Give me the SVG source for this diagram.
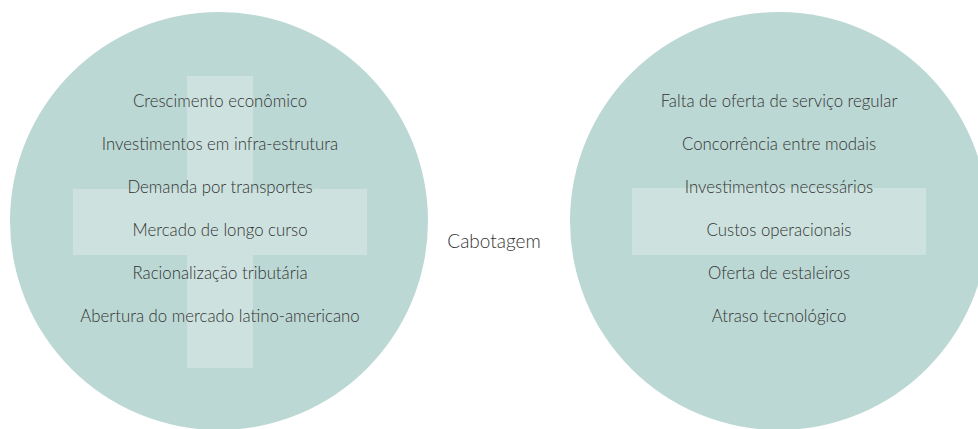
<svg xmlns="http://www.w3.org/2000/svg" width="978" height="429" viewBox="0 0 978 429">
<style>
.circ{fill:#bcd8d4}
.plus{fill:#cde2df}
text{font-family:Lato,"Open Sans","Liberation Sans",sans-serif;font-size:16.8px;font-weight:300;fill:#333333;text-anchor:middle}
.big{font-size:19px}
</style>
<rect width="978" height="429" fill="#ffffff"/>
<g id="left">
<circle class="circ" cx="219" cy="221" r="209"/>
<rect class="plus" x="187" y="76" width="66" height="292"/>
<rect class="plus" x="73" y="189" width="294" height="66"/>
<text x="220" y="107">Crescimento econômico</text>
<text x="220" y="150">Investimentos em infra-estrutura</text>
<text x="220" y="193">Demanda por transportes</text>
<text x="220" y="236">Mercado de longo curso</text>
<text x="220" y="279">Racionalização tributária</text>
<text x="220" y="322">Abertura do mercado latino-americano</text>
</g>
<g id="center">
<text class="big" x="494" y="248">Cabotagem</text>
</g>
<g id="right">
<circle class="circ" cx="779" cy="221" r="209"/>
<rect class="plus" x="632" y="188" width="294" height="67"/>
<text x="779" y="107">Falta de oferta de serviço regular</text>
<text x="779" y="150">Concorrência entre modais</text>
<text x="779" y="193">Investimentos necessários</text>
<text x="779" y="236">Custos operacionais</text>
<text x="779" y="279">Oferta de estaleiros</text>
<text x="779" y="322">Atraso tecnológico</text>
</g>
<g id="connectors"/>
</svg>
